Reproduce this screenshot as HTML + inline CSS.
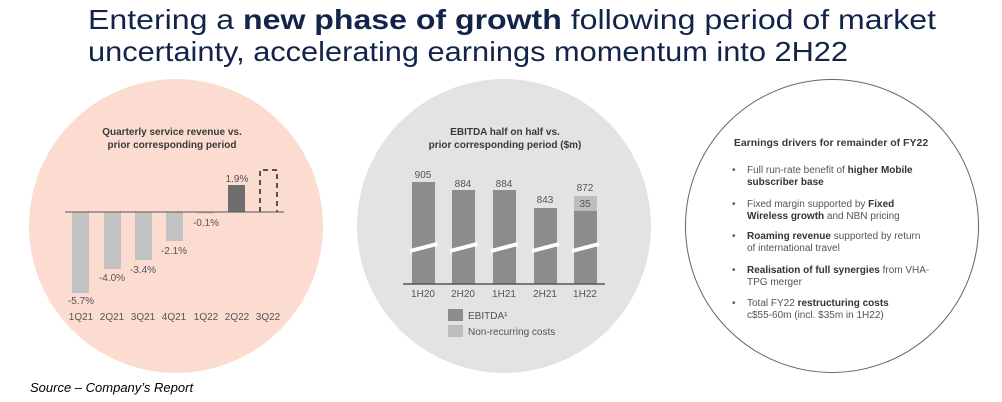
<!DOCTYPE html>
<html><head><meta charset="utf-8"><style>
html,body{margin:0;padding:0;background:#fff;width:1002px;height:402px;overflow:hidden}
text{font-family:"Liberation Sans",sans-serif}
</style></head><body>
<svg width="1002" height="402" viewBox="0 0 1002 402" xmlns="http://www.w3.org/2000/svg">
<text x="88" y="29" font-size="28" fill="#12244a" textLength="848" lengthAdjust="spacingAndGlyphs">Entering a <tspan font-weight="bold">new phase of growth</tspan> following period of market</text>
<text x="88" y="61" font-size="28" fill="#12244a" textLength="760" lengthAdjust="spacingAndGlyphs">uncertainty, accelerating earnings momentum into 2H22</text>

<!-- left circle -->
<circle cx="176" cy="226" r="147" fill="#fcdcd0"/>
<g font-size="10" font-weight="bold" fill="#3a3a3a" text-anchor="middle">
<text x="172" y="135">Quarterly service revenue vs.</text>
<text x="172" y="148">prior corresponding period</text>
</g>
<g fill="#c3c3c3">
<rect x="72" y="212" width="17" height="81"/>
<rect x="104" y="212" width="17" height="57"/>
<rect x="135" y="212" width="17" height="48"/>
<rect x="166" y="212" width="17" height="29"/>
<rect x="197" y="212" width="17" height="1.5"/>
</g>
<rect x="228" y="185" width="17" height="27" fill="#6e6e6e"/>
<path d="M260 212 V170 H277 V212" fill="none" stroke="#222" stroke-width="1.5" stroke-dasharray="5,4"/>
<line x1="65" y1="212" x2="284" y2="212" stroke="#555" stroke-width="1"/>
<g font-size="10" fill="#555" text-anchor="middle">
<text x="81" y="304">-5.7%</text>
<text x="112" y="281">-4.0%</text>
<text x="143" y="273">-3.4%</text>
<text x="174" y="254">-2.1%</text>
<text x="206" y="226">-0.1%</text>
<text x="237" y="182">1.9%</text>
<text x="81" y="320">1Q21</text>
<text x="112" y="320">2Q21</text>
<text x="143" y="320">3Q21</text>
<text x="174" y="320">4Q21</text>
<text x="206" y="320">1Q22</text>
<text x="237" y="320">2Q22</text>
<text x="268" y="320">3Q22</text>
</g>

<!-- middle circle -->
<circle cx="504" cy="226" r="147" fill="#e3e3e5"/>
<g font-size="10" font-weight="bold" fill="#3a3a3a" text-anchor="middle">
<text x="505" y="135">EBITDA half on half vs.</text>
<text x="505" y="148">prior corresponding period ($m)</text>
</g>
<g fill="#8c8c8c">
<rect x="412" y="182" width="23" height="102"/>
<rect x="452" y="190" width="23" height="94"/>
<rect x="493" y="190" width="23" height="94"/>
<rect x="534" y="208" width="23" height="76"/>
<rect x="574" y="211" width="23" height="73"/>
</g>
<rect x="574" y="196" width="23" height="15" fill="#bdbdbd"/>
<g stroke="#fff" stroke-width="4">
<line x1="410" y1="251" x2="437" y2="244"/>
<line x1="450" y1="251" x2="477" y2="244"/>
<line x1="491" y1="251" x2="518" y2="244"/>
<line x1="532" y1="251" x2="559" y2="244"/>
<line x1="572" y1="251" x2="599" y2="244"/>
</g>
<line x1="403" y1="284" x2="605" y2="284" stroke="#555" stroke-width="1.5"/>
<g font-size="10" fill="#555" text-anchor="middle">
<text x="423" y="178">905</text>
<text x="463" y="187">884</text>
<text x="504" y="187">884</text>
<text x="545" y="203">843</text>
<text x="585" y="191">872</text>
<text x="585" y="207">35</text>
<text x="423" y="297">1H20</text>
<text x="463" y="297">2H20</text>
<text x="504" y="297">1H21</text>
<text x="545" y="297">2H21</text>
<text x="585" y="297">1H22</text>
</g>
<rect x="448" y="309" width="15" height="12" fill="#8c8c8c"/>
<rect x="448" y="325" width="15" height="12" fill="#bdbdbd"/>
<g font-size="10" fill="#555">
<text x="468" y="319">EBITDA¹</text>
<text x="468" y="335">Non-recurring costs</text>
</g>

<!-- right circle -->
<circle cx="832" cy="226" r="146.5" fill="#fff" stroke="#666" stroke-width="1"/>
<text x="831" y="146" font-size="10.5" font-weight="bold" fill="#3a3a3a" text-anchor="middle">Earnings drivers for remainder of FY22</text>
<g font-size="10" fill="#555">
<text x="732" y="173">•</text><text x="747" y="173">Full run-rate benefit of <tspan font-weight="bold" fill="#333">higher Mobile</tspan></text>
<text x="747" y="185" font-weight="bold" fill="#333">subscriber base</text>
<text x="732" y="207">•</text><text x="747" y="207">Fixed margin supported by <tspan font-weight="bold" fill="#333">Fixed</tspan></text>
<text x="747" y="219"><tspan font-weight="bold" fill="#333">Wireless growth</tspan> and NBN pricing</text>
<text x="732" y="239">•</text><text x="747" y="239"><tspan font-weight="bold" fill="#333">Roaming revenue</tspan> supported by return</text>
<text x="747" y="251">of international travel</text>
<text x="732" y="273">•</text><text x="747" y="273"><tspan font-weight="bold" fill="#333">Realisation of full synergies</tspan> from VHA-</text>
<text x="747" y="285">TPG merger</text>
<text x="732" y="306">•</text><text x="747" y="306">Total FY22 <tspan font-weight="bold" fill="#333">restructuring costs</tspan></text>
<text x="747" y="318">c$55-60m (incl. $35m in 1H22)</text>
</g>

<text x="30" y="392" font-size="13" font-style="italic" fill="#000">Source – Company’s Report</text>
</svg>
</body></html>
